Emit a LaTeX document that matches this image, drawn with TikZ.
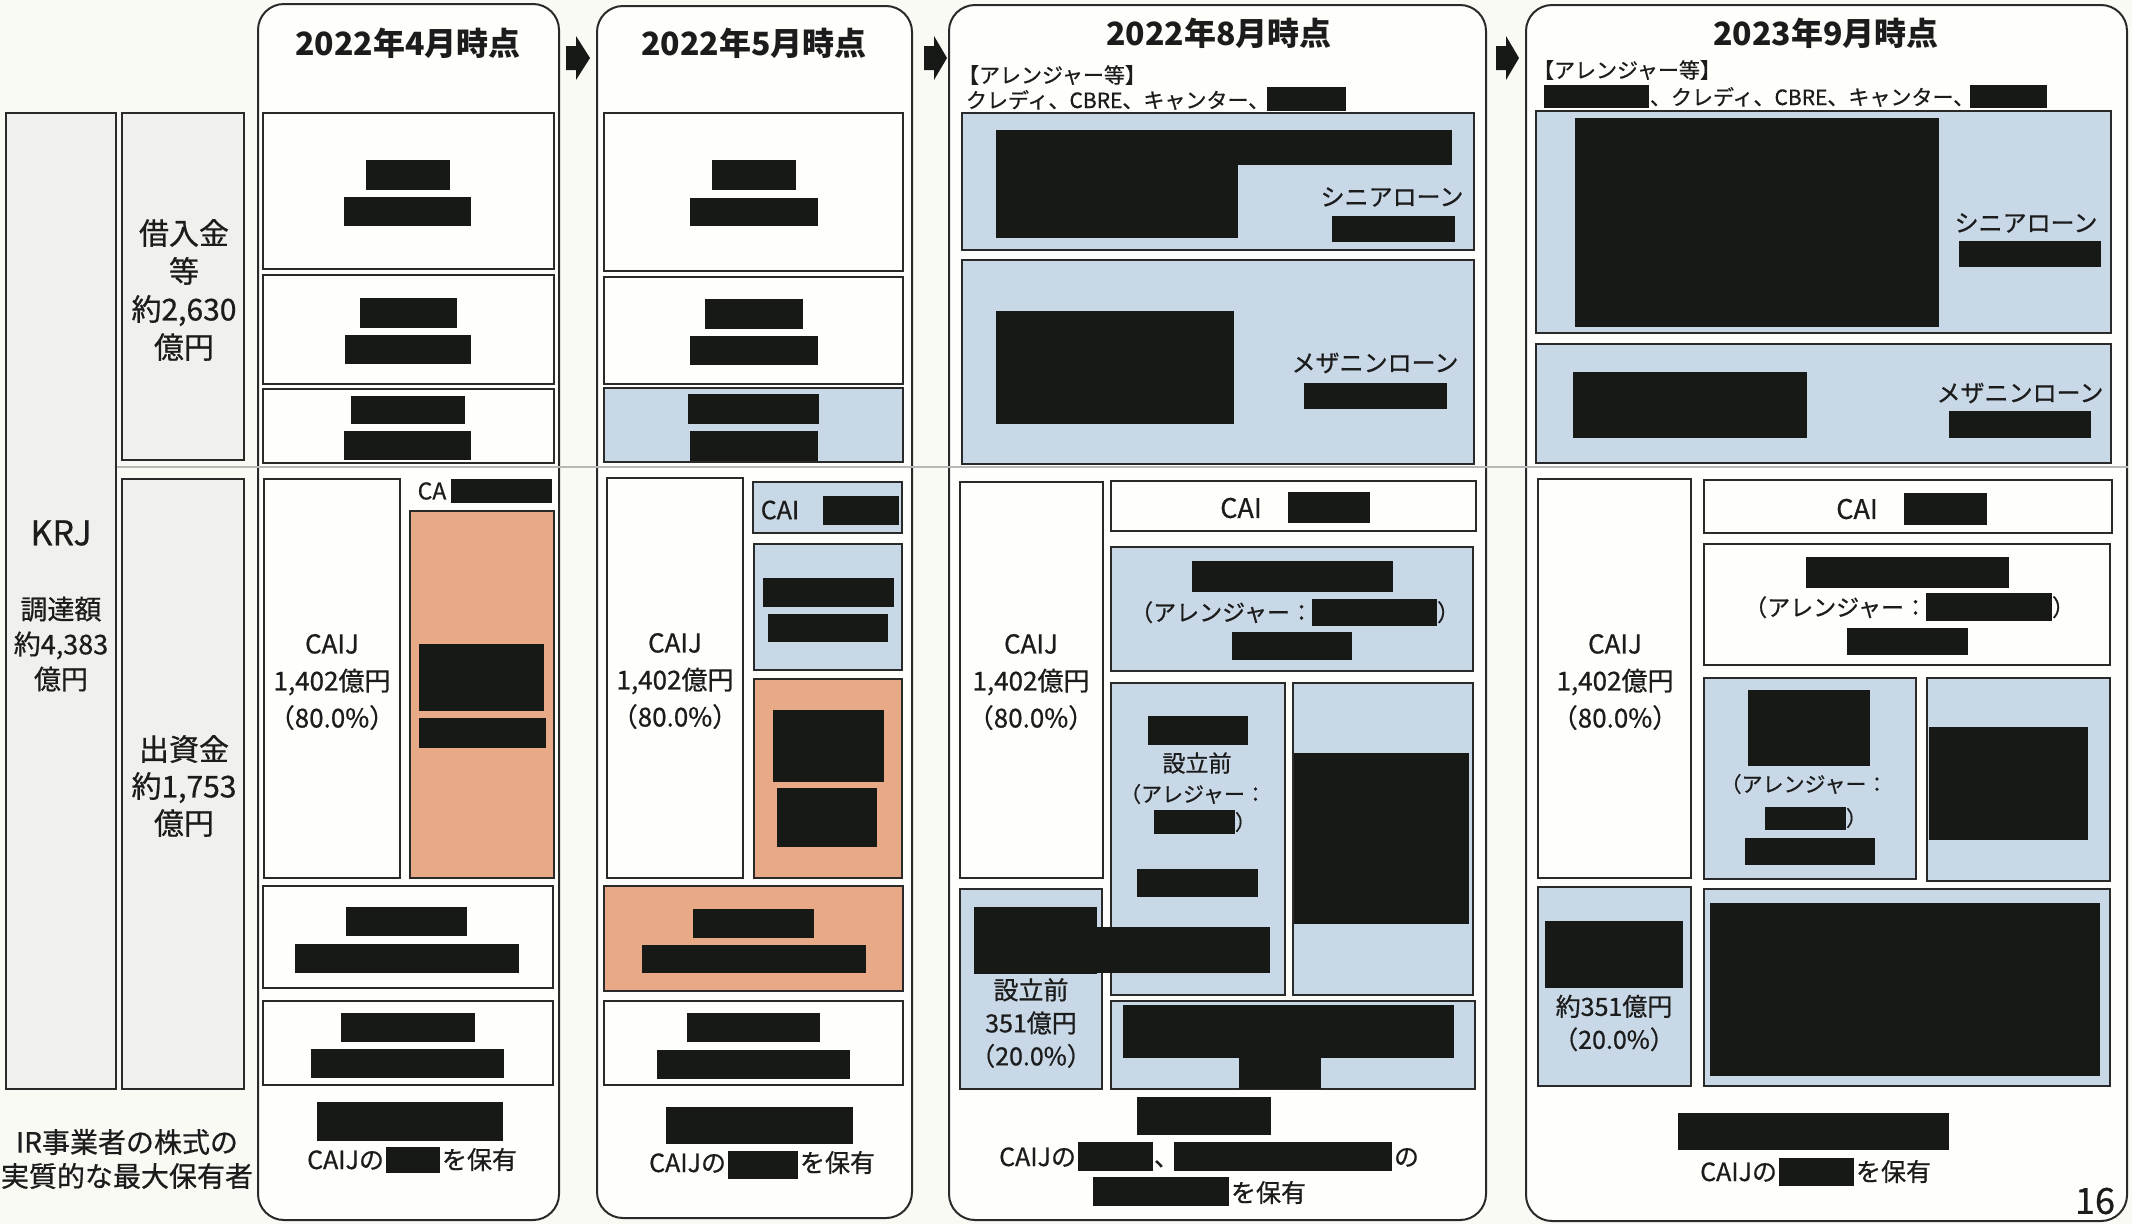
\documentclass[tikz,border=0pt]{standalone}
\usepackage{fontspec}
\setmainfont{Noto Sans CJK JP}[FakeBold=0.7]
\newfontfamily\ttlfont{Noto Sans CJK JP}
\definecolor{bg}{HTML}{FAFAF5}
\definecolor{boxw}{HTML}{FEFEFB}
\definecolor{boxg}{HTML}{F0F0EC}
\definecolor{boxb}{HTML}{C8D8E6}
\definecolor{boxo}{HTML}{E8A987}
\definecolor{redact}{HTML}{161916}
\definecolor{edge}{HTML}{2A2A2A}
\definecolor{ink}{HTML}{1C1C1C}
\definecolor{rule}{HTML}{B8B8B8}
\tikzset{
  panel/.style={draw=edge, line width=2pt, rounded corners=26pt, fill=boxw, inner sep=0, outer sep=0},
  wbox/.style={draw=edge, line width=2.4pt, fill=boxw, inner sep=0, outer sep=0},
  gbox/.style={wbox, fill=boxg},
  bbox/.style={wbox, fill=boxb},
  obox/.style={wbox, fill=boxo},
  txt/.style 2 args={inner sep=0, outer sep=0, text=ink, align=center, font=\fontsize{#1}{#2}\selectfont},
  ttl/.style={inner sep=0, outer sep=0, text=ink, font=\ttlfont\fontsize{32}{36}\selectfont\bfseries},
  redfill/.style={fill=redact},
}
\newcommand\bx[6]{\node[#2, anchor=north west, minimum width={(#5)-(#3)}, minimum height={(#6)-(#4)}] (#1) at (#3,#4) {};}
\newcommand\rd[4]{\fill[redfill] (#1,#2) rectangle (#3,#4);}
\begin{document}
\begin{tikzpicture}[x=1pt,y=-1pt]
\useasboundingbox (0,0) rectangle (2132,1224);
\fill[bg] (0,0) rectangle (2132,1224);

% panels
\bx{p1}{panel}{258}{4}{559}{1220}
\bx{p2}{panel}{597}{6}{912}{1218}
\bx{p3}{panel}{949}{5}{1486}{1220}
\bx{p4}{panel}{1526}{5}{2127}{1221}

% arrows between panels
\fill[redfill] (566,46) -- (576,46) -- (576,36) -- (590,58) -- (576,80) -- (576,70) -- (566,70) -- cycle;
\fill[redfill] (924,46) -- (934,46) -- (934,36) -- (947,58) -- (934,80) -- (934,70) -- (924,70) -- cycle;
\fill[redfill] (1496,46) -- (1506,46) -- (1506,36) -- (1519,58) -- (1506,80) -- (1506,70) -- (1496,70) -- cycle;

% separator line
\coordinate (sepL) at (116,467);
\coordinate (sepR) at (2128,467);
\draw[rule, line width=1.5pt] (sepL) -- (sepR);

% left column
\bx{krj}{gbox}{6}{113}{116}{1089}
\bx{kari}{gbox}{122}{113}{244}{460}
\bx{shus}{gbox}{122}{479}{244}{1089}
\node[txt={34}{38}] (krjt) at (61,533) {KRJ};
\node[txt={27}{35}] (chot) at (61,644) {調達額\\約4,383\\億円};
\node[txt={30}{38}] (karit) at (184,290) {借入金\\等\\約2,630\\億円};
\node[txt={30}{37}] (shust) at (184,786) {出資金\\約1,753\\億円};
\node[txt={28}{34}] (irt) at (127,1159) {IR事業者の株式の\\実質的な最大保有者};

% titles
\node[ttl] (t1) at (408,43) {2022年4月時点};
\node[ttl] (t2) at (754,43) {2022年5月時点};
\node[ttl] (t3) at (1219,33) {2022年8月時点};
\node[ttl] (t4) at (1826,33) {2023年9月時点};

% ---------- panel 1 ----------
\bx{a1}{wbox}{263}{113}{554}{269}
\bx{a2}{wbox}{263}{275}{554}{384}
\bx{a3}{wbox}{263}{389}{554}{463}
\bx{a4}{wbox}{264}{479}{400}{878}
\bx{a5}{obox}{410}{511}{554}{878}
\bx{a6}{wbox}{263}{886}{553}{988}
\bx{a7}{wbox}{263}{1001}{553}{1085}
\rd{366}{160}{450}{190}\rd{344}{197}{471}{226}
\rd{360}{298}{457}{328}\rd{345}{335}{471}{364}
\rd{351}{396}{465}{424}\rd{344}{431}{471}{460}
\rd{419}{644}{544}{711}\rd{419}{718}{546}{748}
\rd{346}{907}{467}{936}\rd{295}{944}{519}{973}
\rd{341}{1013}{475}{1042}\rd{311}{1049}{504}{1078}
\rd{317}{1102}{503}{1141}
\node[txt={23}{26}] (a5l) at (432,491) {CA};
\rd{451}{479}{552}{503}
\node[txt={26}{37}] (a4t) at (332,682) {CAIJ\\1,402億円\\（80.0\%）};
\node[txt={25}{30}, anchor=base east] (a8a) at (384,1169) {CAIJの};
\rd{386}{1147}{440}{1173}
\node[txt={25}{30}, anchor=base west] (a8b) at (442,1169) {を保有};

% ---------- panel 2 ----------
\bx{b1}{wbox}{604}{113}{903}{271}
\bx{b2}{wbox}{604}{277}{903}{384}
\bx{b3}{bbox}{604}{388}{903}{462}
\bx{b4}{wbox}{607}{478}{743}{878}
\bx{b5}{bbox}{753}{482}{902}{533}
\bx{b6}{bbox}{754}{544}{902}{670}
\bx{b7}{obox}{754}{679}{902}{878}
\bx{b8}{obox}{604}{886}{903}{991}
\bx{b9}{wbox}{604}{1001}{903}{1085}
\rd{712}{160}{796}{190}\rd{690}{198}{818}{226}
\rd{705}{299}{803}{329}\rd{690}{336}{818}{365}
\rd{688}{394}{819}{424}\rd{690}{431}{818}{461}
\rd{823}{496}{899}{525}
\rd{763}{578}{894}{607}\rd{768}{614}{888}{642}
\rd{773}{710}{884}{782}\rd{777}{788}{877}{847}
\rd{693}{909}{814}{938}\rd{642}{945}{866}{973}
\rd{687}{1013}{820}{1042}\rd{657}{1050}{850}{1079}
\rd{666}{1107}{853}{1144}
\node[txt={25}{28}] (b5t) at (780,510) {CAI};
\node[txt={26}{37}] (b4t) at (675,681) {CAIJ\\1,402億円\\（80.0\%）};
\node[txt={25}{30}, anchor=base east] (b10a) at (726,1172) {CAIJの};
\rd{728}{1151}{798}{1179}
\node[txt={25}{30}, anchor=base west] (b10b) at (800,1172) {を保有};

% ---------- panel 3 ----------
\node[txt={21}{24}, anchor=base west] (c0a) at (958,83) {【アレンジャー等】};
\node[txt={21}{24}, anchor=base west] (c0b) at (966,108) {クレディ、CBRE、キャンター、};
\rd{1267}{87}{1346}{111}
\bx{c1}{bbox}{962}{113}{1474}{250}
\bx{c2}{bbox}{962}{260}{1474}{464}
\bx{c3}{wbox}{960}{482}{1103}{878}
\bx{c4}{wbox}{1111}{481}{1476}{531}
\bx{c5}{bbox}{1111}{547}{1473}{671}
\bx{c6}{bbox}{1111}{683}{1285}{995}
\bx{c7}{bbox}{1293}{683}{1473}{995}
\bx{c8}{bbox}{960}{889}{1102}{1089}
\bx{c9}{bbox}{1111}{1001}{1475}{1089}
\rd{996}{130}{1452}{165}\rd{996}{130}{1238}{238}
\rd{1332}{216}{1455}{242}
\node[txt={24}{28}] (c1t) at (1392,197) {シニアローン};
\rd{996}{311}{1234}{424}
\rd{1304}{383}{1447}{409}
\node[txt={24}{28}] (c2t) at (1375,363) {メザニンローン};
\node[txt={26}{37}] (c3t) at (1031,682) {CAIJ\\1,402億円\\（80.0\%）};
\node[txt={27}{30}] (c4t) at (1241,508) {CAI};
\rd{1288}{492}{1370}{523}
\rd{1192}{561}{1393}{592}
\node[txt={23}{28}, anchor=base east] (c5a) at (1313,621) {（アレンジャー：};
\rd{1312}{599}{1437}{626}
\node[txt={23}{28}, anchor=base west] (c5b) at (1437,621) {）};
\rd{1232}{632}{1352}{660}
\rd{1148}{716}{1248}{745}
\node[txt={23}{28}] (c6a) at (1197,763) {設立前};
\node[txt={21}{26}] (c6b) at (1193,794) {（アレジャー：};
\rd{1154}{810}{1235}{834}
\node[txt={21}{26}, anchor=base west] (c6c) at (1235,830) {）};
\rd{1137}{869}{1258}{897}
\rd{1294}{753}{1469}{924}
\node[txt={25}{33}] (c8t) at (1031,1023) {設立前\\351億円\\（20.0\%）};
\rd{974}{907}{1097}{974}\rd{1097}{927}{1270}{973}
\rd{1123}{1005}{1454}{1058}\rd{1239}{1058}{1321}{1089}
\rd{1137}{1097}{1271}{1135}
\node[txt={25}{30}, anchor=base east] (c10a) at (1076,1166) {CAIJの};
\rd{1078}{1142}{1153}{1171}
\node[txt={25}{30}, anchor=base west] (c10b) at (1154,1166) {、};
\rd{1174}{1142}{1392}{1171}
\node[txt={25}{30}, anchor=base west] (c10c) at (1394,1166) {の};
\rd{1093}{1177}{1229}{1206}
\node[txt={25}{30}, anchor=base west] (c10d) at (1231,1202) {を保有};

% ---------- panel 4 ----------
\node[txt={21}{24}, anchor=base west] (d0a) at (1533,78) {【アレンジャー等】};
\rd{1544}{85}{1649}{108}
\node[txt={21}{24}, anchor=base west] (d0b) at (1650,105) {、クレディ、CBRE、キャンター、};
\rd{1970}{85}{2047}{108}
\bx{d1}{bbox}{1536}{111}{2111}{333}
\bx{d2}{bbox}{1536}{344}{2111}{463}
\bx{d3}{wbox}{1538}{479}{1691}{878}
\bx{d4}{wbox}{1704}{480}{2112}{533}
\bx{d5}{wbox}{1704}{544}{2110}{665}
\bx{d6}{bbox}{1704}{678}{1916}{879}
\bx{d7}{bbox}{1927}{678}{2110}{881}
\bx{d8}{bbox}{1538}{887}{1691}{1086}
\bx{d9}{bbox}{1704}{889}{2110}{1086}
\rd{1575}{118}{1939}{327}
\node[txt={24}{28}] (d1t) at (2026,223) {シニアローン};
\rd{1959}{241}{2101}{267}
\rd{1573}{372}{1807}{438}
\node[txt={24}{28}] (d2t) at (2020,393) {メザニンローン};
\rd{1949}{411}{2091}{438}
\node[txt={26}{37}] (d3t) at (1615,682) {CAIJ\\1,402億円\\（80.0\%）};
\node[txt={27}{30}] (d4t) at (1857,509) {CAI};
\rd{1904}{493}{1987}{525}
\rd{1806}{557}{2009}{588}
\node[txt={23}{28}, anchor=base east] (d5a) at (1927,616) {（アレンジャー：};
\rd{1926}{593}{2052}{621}
\node[txt={23}{28}, anchor=base west] (d5b) at (2052,616) {）};
\rd{1847}{628}{1968}{655}
\rd{1748}{690}{1870}{766}
\node[txt={21}{26}] (d6a) at (1804,784) {（アレンジャー：};
\rd{1765}{807}{1846}{830}
\node[txt={21}{26}, anchor=base west] (d6b) at (1846,826) {）};
\rd{1745}{838}{1875}{865}
\rd{1929}{727}{2088}{840}
\rd{1545}{921}{1683}{988}
\node[txt={25}{33}] (d8t) at (1614,1023) {約351億円\\（20.0\%）};
\rd{1710}{903}{2100}{1076}
\rd{1678}{1113}{1949}{1150}
\node[txt={25}{30}, anchor=base east] (d10a) at (1777,1181) {CAIJの};
\rd{1779}{1158}{1854}{1186}
\node[txt={25}{30}, anchor=base west] (d10b) at (1856,1181) {を保有};
\node[txt={36}{40}] (pg) at (2095,1201) {16};
\end{tikzpicture}
\end{document}
